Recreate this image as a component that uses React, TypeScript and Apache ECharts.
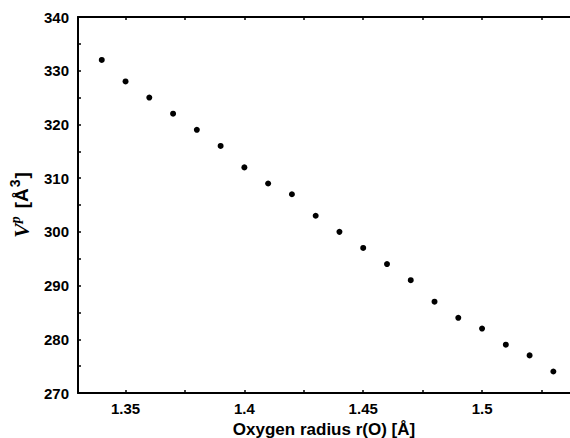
import React, { useEffect, useRef } from "react";
import * as echarts from "echarts";

const radius = [1.34, 1.35, 1.36, 1.37, 1.38, 1.39, 1.4, 1.41, 1.42, 1.43, 1.44, 1.45, 1.46, 1.47, 1.48, 1.49, 1.5, 1.51, 1.52, 1.53];
const volume = [332, 328, 325, 322, 319, 316, 312, 309, 307, 303, 300, 297, 294, 291, 287, 284, 282, 279, 277, 274];
const xLabelValues = [1.35, 1.4, 1.45, 1.5];
const xTickValues = [1.35, 1.375, 1.4, 1.425, 1.45, 1.475, 1.5, 1.525];

export default function App() {
  const ref = useRef<HTMLDivElement>(null);
  useEffect(() => {
    const chart = echarts.init(ref.current!, null, { renderer: "svg" });
    const font = "Liberation Sans";
    const axisCommon = {
      axisLine: { show: true, lineStyle: { color: "#000", width: 2 } },
      splitLine: { show: false },
    };
    chart.setOption({
      animation: false,
      backgroundColor: "#fff",
      grid: { left: 78, right: 0, top: 17, bottom: 45, containLabel: false, outerBoundsMode: "none" },
      xAxis: [
        {
          type: "value",
          position: "bottom",
          min: 1.33,
          max: 1.537,
          ...axisCommon,
          axisTick: { show: true, inside: true, length: 3, customValues: xTickValues, lineStyle: { color: "#000", width: 1.5 } },
          axisLabel: {
            customValues: xLabelValues,
            formatter: (v: number) => String(+v.toFixed(2)),
            color: "#000",
            fontFamily: font,
            fontWeight: "bold",
            fontSize: 15,
            margin: 8,
          },
          name: "Oxygen radius r(O) [Å]",
          nameLocation: "middle",
          nameGap: 24,
          nameTextStyle: { color: "#000", fontFamily: font, fontWeight: "bold", fontSize: 17 },
        },
        {
          type: "value",
          position: "top",
          min: 1.33,
          max: 1.537,
          ...axisCommon,
          axisTick: { show: true, inside: true, length: 3, customValues: xTickValues, lineStyle: { color: "#000", width: 1.5 } },
          axisLabel: { show: false },
        },
      ],
      yAxis: {
        type: "value",
        min: 270,
        max: 340,
        interval: 10,
        ...axisCommon,
        axisTick: { show: true, inside: true, length: 3, lineStyle: { color: "#000", width: 1.5 } },
        minorTick: { show: true, splitNumber: 2, length: 3, lineStyle: { color: "#000", width: 1.5 } },
        axisLabel: {
          color: "#000",
          fontFamily: font,
          fontWeight: "bold",
          fontSize: 15,
          margin: 9,
        },
        name: "{v|V}{p|p}{b|[Å}{s|3}{b|]}",
        nameLocation: "middle",
        nameRotate: 90,
        nameGap: 44,
        nameTextStyle: {
          color: "#000",
          rich: {
            v: { fontFamily: "Liberation Serif", fontStyle: "italic", fontWeight: "bold", fontSize: 22, color: "#000" },
            p: { fontFamily: "Liberation Serif", fontStyle: "italic", fontWeight: "bold", fontSize: 14, color: "#000", padding: [0, 8, 12, 0] },
            b: { fontFamily: font, fontWeight: "bold", fontSize: 19, color: "#000" },
            s: { fontFamily: font, fontWeight: "bold", fontSize: 14, color: "#000", padding: [0, 1, 12, 1] },
          },
        },
      },
      series: [
        {
          type: "scatter",
          xAxisIndex: 0,
          data: radius.map((r, i) => [r, volume[i]]),
          symbol: "circle",
          symbolSize: 6,
          itemStyle: { color: "#000", opacity: 1 },
        },
      ],
    });
    return () => chart.dispose();
  }, []);
  return <div ref={ref} style={{ width: 570, height: 438, position: "absolute", left: 0, top: 0 }} />;
}
